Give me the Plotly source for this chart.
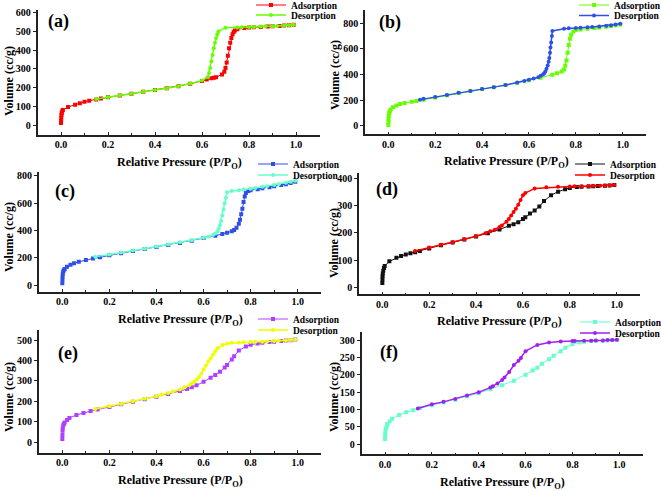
import plotly.graph_objects as go

# ---------------- data ----------------
a_ads_p = [0.0, 0.0005, 0.001, 0.002, 0.003, 0.005, 0.008, 0.03, 0.06, 0.08, 0.10, 0.12, 0.15, 0.17, 0.20, 0.25, 0.30, 0.35, 0.40, 0.45, 0.50, 0.55, 0.60, 0.62, 0.64, 0.65, 0.66, 0.685, 0.695, 0.70, 0.705, 0.71, 0.715, 0.72, 0.725, 0.73, 0.735, 0.74, 0.75, 0.78, 0.80, 0.82, 0.85, 0.88, 0.90, 0.93, 0.95, 0.97, 0.99]
a_ads_v = [12, 25, 40, 55, 65, 75, 82, 97, 110, 118, 126, 131, 138, 143, 150, 159, 168, 178, 188, 197, 208, 221, 236, 244, 250, 253, 256, 271, 285, 305, 335, 370, 410, 440, 465, 485, 497, 505, 512, 518, 521, 522, 524, 526, 527, 529, 531, 533, 535]
a_des_p = [0.99, 0.97, 0.95, 0.92, 0.90, 0.87, 0.85, 0.82, 0.80, 0.77, 0.75, 0.70, 0.67, 0.665, 0.66, 0.655, 0.65, 0.645, 0.64, 0.635, 0.63, 0.625, 0.60, 0.55, 0.50, 0.45, 0.40, 0.35, 0.30, 0.25, 0.20, 0.15]
a_des_v = [535, 533, 531, 529, 528, 527, 526, 524, 523, 522, 521, 520, 500, 485, 465, 440, 410, 375, 340, 305, 278, 257, 238, 222, 208, 197, 188, 178, 168, 159, 150, 140]

b_ads_p = [0, 0.0005, 0.001, 0.002, 0.004, 0.006, 0.01, 0.02, 0.035, 0.05, 0.07, 0.1, 0.12, 0.15, 0.2, 0.25, 0.3, 0.35, 0.4, 0.45, 0.5, 0.55, 0.6, 0.65, 0.7, 0.72, 0.74, 0.75, 0.755, 0.76, 0.765, 0.77, 0.775, 0.78, 0.79, 0.8, 0.82, 0.85, 0.88, 0.9, 0.93, 0.95, 0.97, 0.99]
b_ads_v = [8, 30, 55, 80, 100, 115, 128, 145, 160, 170, 178, 188, 195, 205, 222, 240, 257, 272, 287, 302, 318, 335, 355, 375, 398, 410, 425, 440, 470, 510, 570, 630, 680, 710, 735, 748, 752, 757, 762, 766, 772, 778, 784, 790]
b_des_p = [0.99, 0.97, 0.95, 0.93, 0.9, 0.87, 0.85, 0.82, 0.8, 0.77, 0.75, 0.7, 0.698, 0.695, 0.692, 0.69, 0.687, 0.684, 0.68, 0.675, 0.67, 0.665, 0.66, 0.65, 0.64, 0.62, 0.6, 0.58, 0.55, 0.5, 0.45, 0.4, 0.35, 0.3, 0.25, 0.2, 0.15, 0.135]
b_des_v = [795, 790, 785, 780, 775, 770, 768, 765, 762, 760, 757, 740, 700, 650, 610, 570, 530, 500, 470, 445, 425, 410, 400, 390, 380, 370, 360, 350, 338, 318, 302, 287, 272, 258, 242, 226, 212, 205]

c_ads_p = [0, 0.0005, 0.001, 0.002, 0.004, 0.006, 0.01, 0.02, 0.035, 0.05, 0.07, 0.1, 0.13, 0.16, 0.2, 0.25, 0.3, 0.35, 0.4, 0.45, 0.5, 0.55, 0.6, 0.65, 0.68, 0.7, 0.72, 0.73, 0.74, 0.75, 0.755, 0.76, 0.765, 0.77, 0.775, 0.78, 0.79, 0.8, 0.83, 0.85, 0.88, 0.9, 0.93, 0.95, 0.97, 0.99]
c_ads_v = [15, 40, 65, 85, 100, 110, 120, 135, 150, 162, 172, 185, 195, 205, 220, 235, 250, 265, 280, 295, 310, 325, 345, 362, 375, 385, 395, 405, 420, 450, 480, 520, 560, 610, 650, 675, 690, 695, 703, 710, 718, 725, 733, 740, 748, 758]
c_des_p = [0.99, 0.97, 0.95, 0.92, 0.9, 0.87, 0.85, 0.82, 0.8, 0.77, 0.75, 0.72, 0.7, 0.695, 0.69, 0.685, 0.68, 0.675, 0.67, 0.665, 0.66, 0.65, 0.64, 0.62, 0.6, 0.55, 0.5, 0.45, 0.4, 0.35, 0.3, 0.25, 0.2, 0.14]
c_des_v = [765, 758, 750, 740, 733, 725, 720, 712, 706, 700, 696, 690, 680, 640, 600, 555, 510, 470, 440, 415, 395, 378, 368, 355, 348, 330, 315, 298, 283, 268, 255, 240, 225, 208]

d_ads_p = [0, 0.0005, 0.001, 0.002, 0.004, 0.007, 0.01, 0.03, 0.06, 0.08, 0.1, 0.12, 0.14, 0.16, 0.2, 0.25, 0.3, 0.35, 0.4, 0.45, 0.5, 0.54, 0.56, 0.58, 0.6, 0.61, 0.63, 0.65, 0.67, 0.69, 0.72, 0.75, 0.78, 0.8, 0.83, 0.85, 0.88, 0.9, 0.92, 0.95, 0.97, 0.99]
d_ads_v = [15, 28, 40, 50, 60, 70, 78, 95, 108, 115, 120, 125, 129, 133, 143, 155, 165, 176, 187, 199, 213, 227, 232, 240, 252, 258, 272, 283, 298, 318, 340, 353, 362, 367, 370, 371, 372, 373, 374, 375, 376, 378]
d_des_p = [0.99, 0.97, 0.95, 0.93, 0.9, 0.88, 0.85, 0.82, 0.8, 0.75, 0.7, 0.65, 0.61, 0.6, 0.59, 0.58, 0.57, 0.56, 0.55, 0.54, 0.53, 0.51, 0.5, 0.48, 0.46, 0.44, 0.4, 0.35, 0.3, 0.25, 0.2, 0.14]
d_des_v = [378, 377, 376, 375, 375, 374, 373, 373, 372, 371, 369, 365, 348, 340, 322, 305, 290, 278, 265, 252, 242, 228, 222, 212, 206, 199, 188, 177, 166, 156, 146, 133]

e_ads_p = [0, 0.0005, 0.001, 0.002, 0.004, 0.007, 0.01, 0.02, 0.03, 0.06, 0.09, 0.12, 0.15, 0.2, 0.25, 0.3, 0.35, 0.4, 0.45, 0.5, 0.53, 0.55, 0.57, 0.6, 0.63, 0.65, 0.67, 0.69, 0.7, 0.72, 0.73, 0.75, 0.78, 0.8, 0.83, 0.85, 0.88, 0.9, 0.93, 0.95, 0.97, 0.99]
e_ads_v = [15, 35, 55, 70, 82, 90, 96, 108, 118, 133, 143, 152, 160, 172, 185, 197, 210, 222, 236, 250, 260, 268, 278, 295, 315, 328, 345, 365, 378, 405, 420, 448, 468, 477, 483, 487, 490, 492, 495, 497, 499, 502]
e_des_p = [0.99, 0.97, 0.95, 0.92, 0.9, 0.87, 0.85, 0.82, 0.8, 0.77, 0.75, 0.72, 0.7, 0.68, 0.66, 0.65, 0.64, 0.63, 0.62, 0.61, 0.6, 0.59, 0.58, 0.57, 0.56, 0.55, 0.54, 0.52, 0.5, 0.47, 0.45, 0.42, 0.4, 0.35, 0.3, 0.25, 0.2, 0.14]
e_des_v = [503, 500, 498, 496, 495, 493, 492, 491, 490, 489, 488, 486, 483, 475, 460, 445, 428, 410, 395, 375, 355, 335, 318, 305, 295, 287, 280, 268, 258, 248, 240, 232, 225, 212, 200, 187, 176, 162]

f_ads_p = [0, 0.0005, 0.001, 0.002, 0.004, 0.007, 0.01, 0.02, 0.03, 0.06, 0.09, 0.12, 0.15, 0.2, 0.25, 0.3, 0.35, 0.4, 0.45, 0.5, 0.55, 0.6, 0.63, 0.65, 0.67, 0.7, 0.72, 0.75, 0.77, 0.8, 0.83, 0.85, 0.88, 0.9, 0.93, 0.95, 0.97, 0.99]
f_ads_v = [15, 22, 30, 38, 45, 50, 58, 66, 73, 84, 92, 98, 104, 112, 120, 128, 138, 147, 158, 170, 183, 200, 212, 220, 232, 245, 255, 268, 278, 288, 293, 295, 297, 298, 298, 299, 300, 300]
f_des_p = [0.99, 0.97, 0.95, 0.93, 0.9, 0.88, 0.85, 0.81, 0.8, 0.75, 0.7, 0.65, 0.6, 0.58, 0.57, 0.55, 0.53, 0.51, 0.5, 0.48, 0.46, 0.45, 0.4, 0.35, 0.3, 0.25, 0.2, 0.14]
f_des_v = [301, 300, 300, 299, 299, 298, 298, 297, 297, 296, 293, 286, 268, 248, 240, 228, 208, 192, 185, 175, 167, 163, 150, 140, 130, 122, 115, 103]

panel_labels = ["(a)", "(b)", "(c)", "(d)", "(e)", "(f)"]
series_names = ["Adsorption", "Desorption"]
x_title = "Relative Pressure (P/P<sub>O</sub>)"
y_title = "Volume (cc/g)"

# ---------------- layout helpers ----------------
W, H = 661, 491
def fx(p): return p / W
def fy(p): return 1 - p / H

RED, LIME, BLUE, AQUA, BLACK, VIOLET, YELLOW, PURPLE = (
    "#ff0000", "#66ff00", "#2e4fe8", "#66ffcc", "#111111", "#b040ff", "#eeff00", "#a020f0")

panels = [
    dict(ads=(a_ads_p, a_ads_v), des=(a_des_p, a_des_v), ca=RED, cd=LIME,
         xpx=(37.5, 319.5), ypx=(10, 134.5), yr=(-49, 614), dt=100,
         lab=(58, 21), xt=(179, 163), yt=(9, 81), leg=(291, 5, 15)),
    dict(ads=(b_ads_p, b_ads_v), des=(b_des_p, b_des_v), ca=LIME, cd=BLUE,
         xpx=(364.9, 646.1), ypx=(10, 134.3), yr=(-65, 903), dt=200,
         lab=(390, 23), xt=(506, 162), yt=(335, 75), leg=(614, 5, 15.5)),
    dict(ads=(c_ads_p, c_ads_v), des=(c_des_p, c_des_v), ca=BLUE, cd=AQUA,
         xpx=(38.8, 321.2), ypx=(171.7, 291.7), yr=(-47, 831), dt=200,
         lab=(65, 191), xt=(180, 320), yt=(9, 237), leg=(293, 164, 175)),
    dict(ads=(d_ads_p, d_ads_v), des=(d_des_p, d_des_v), ca=BLACK, cd=RED,
         xpx=(358.9, 640.1), ypx=(173.3, 294.3), yr=(-27, 421), dt=100,
         lab=(387, 189), xt=(499, 322), yt=(334, 243), leg=(610, 164, 175)),
    dict(ads=(e_ads_p, e_ads_v), des=(e_des_p, e_des_v), ca=VIOLET, cd=YELLOW,
         xpx=(38.8, 321.2), ypx=(330, 452.7), yr=(-52, 549), dt=100,
         lab=(68, 353), xt=(180, 481), yt=(9, 397), leg=(293, 319, 330)),
    dict(ads=(f_ads_p, f_ads_v), des=(f_des_p, f_des_v), ca=AQUA, cd=PURPLE,
         xpx=(361.6, 642.7), ypx=(331.7, 454.3), yr=(-29, 324), dt=50,
         lab=(389, 352), xt=(502, 483), yt=(334, 397), leg=(615, 322, 333)),
]

FONT = "Liberation Serif"
fig = go.Figure()
layout = dict(width=W, height=H, margin=dict(l=0, r=0, t=0, b=0, autoexpand=False),
              paper_bgcolor="white", plot_bgcolor="white", annotations=[], showlegend=True)

for i, pn in enumerate(panels):
    n = i + 1
    xa = "x" if n == 1 else f"x{n}"
    ya = "y" if n == 1 else f"y{n}"
    lna = f"legend{2 * i + 2}"
    lnb = f"legend{2 * i + 3}"
    fig.add_trace(go.Scatter(x=pn["ads"][0], y=pn["ads"][1], name=series_names[0],
                             mode="lines+markers", xaxis=xa, yaxis=ya, legend=lna, showlegend=True,
                             line=dict(color=pn["ca"], width=1),
                             marker=dict(symbol="square", size=4, color=pn["ca"])))
    fig.add_trace(go.Scatter(x=pn["des"][0], y=pn["des"][1], name=series_names[1],
                             mode="lines+markers", xaxis=xa, yaxis=ya, legend=lnb, showlegend=True,
                             line=dict(color=pn["cd"], width=1.5),
                             marker=dict(symbol="circle", size=4, color=pn["cd"])))
    axkey_x = "xaxis" if n == 1 else f"xaxis{n}"
    axkey_y = "yaxis" if n == 1 else f"yaxis{n}"
    layout[axkey_x] = dict(domain=[fx(pn["xpx"][0]), fx(pn["xpx"][1])], range=[-0.1, 1.1],
                           anchor=ya, showline=True, linecolor="#222", linewidth=1.5,
                           showgrid=False, zeroline=False, ticks="inside", ticklen=3,
                           tickcolor="#222", dtick=0.2, tick0=0, tickformat=".1f",
                           minor=dict(ticks="inside", ticklen=2, dtick=0.1, tick0=0, tickcolor="#222"),
                           tickfont=dict(family=FONT, size=10, color="black", weight="bold"))
    layout[axkey_y] = dict(domain=[fy(pn["ypx"][1]), fy(pn["ypx"][0])], range=list(pn["yr"]),
                           anchor=xa, showline=True, linecolor="#222", linewidth=1.5,
                           showgrid=False, zeroline=False, ticks="outside", ticklen=3,
                           tickcolor="#222", dtick=pn["dt"], tick0=0,
                           tickfont=dict(family=FONT, size=10, color="black", weight="bold"))
    for ln, yc in ((lna, pn["leg"][1]), (lnb, pn["leg"][2])):
        layout[ln] = dict(x=fx(pn["leg"][0] - 40), y=fy(yc), xanchor="left", yanchor="middle",
                          bgcolor="rgba(0,0,0,0)", borderwidth=0, visible=True,
                          font=dict(family=FONT, size=9.5, color="black", weight="bold"))
    layout["annotations"] += [
        dict(text=panel_labels[i], x=fx(pn["lab"][0]), y=fy(pn["lab"][1]), xref="paper", yref="paper",
             showarrow=False, xanchor="center", yanchor="middle",
             font=dict(family=FONT, size=18, color="black", weight="bold")),
        dict(text=x_title, x=fx(pn["xt"][0]), y=fy(pn["xt"][1]), xref="paper", yref="paper",
             showarrow=False, xanchor="center", yanchor="middle",
             font=dict(family=FONT, size=12, color="black", weight="bold")),
        dict(text=y_title, x=fx(pn["yt"][0]), y=fy(pn["yt"][1]), xref="paper", yref="paper",
             showarrow=False, xanchor="center", yanchor="middle", textangle=-90,
             font=dict(family=FONT, size=12, color="black", weight="bold")),
    ]

fig.update_layout(**layout)
fig.write_html("out.html")
